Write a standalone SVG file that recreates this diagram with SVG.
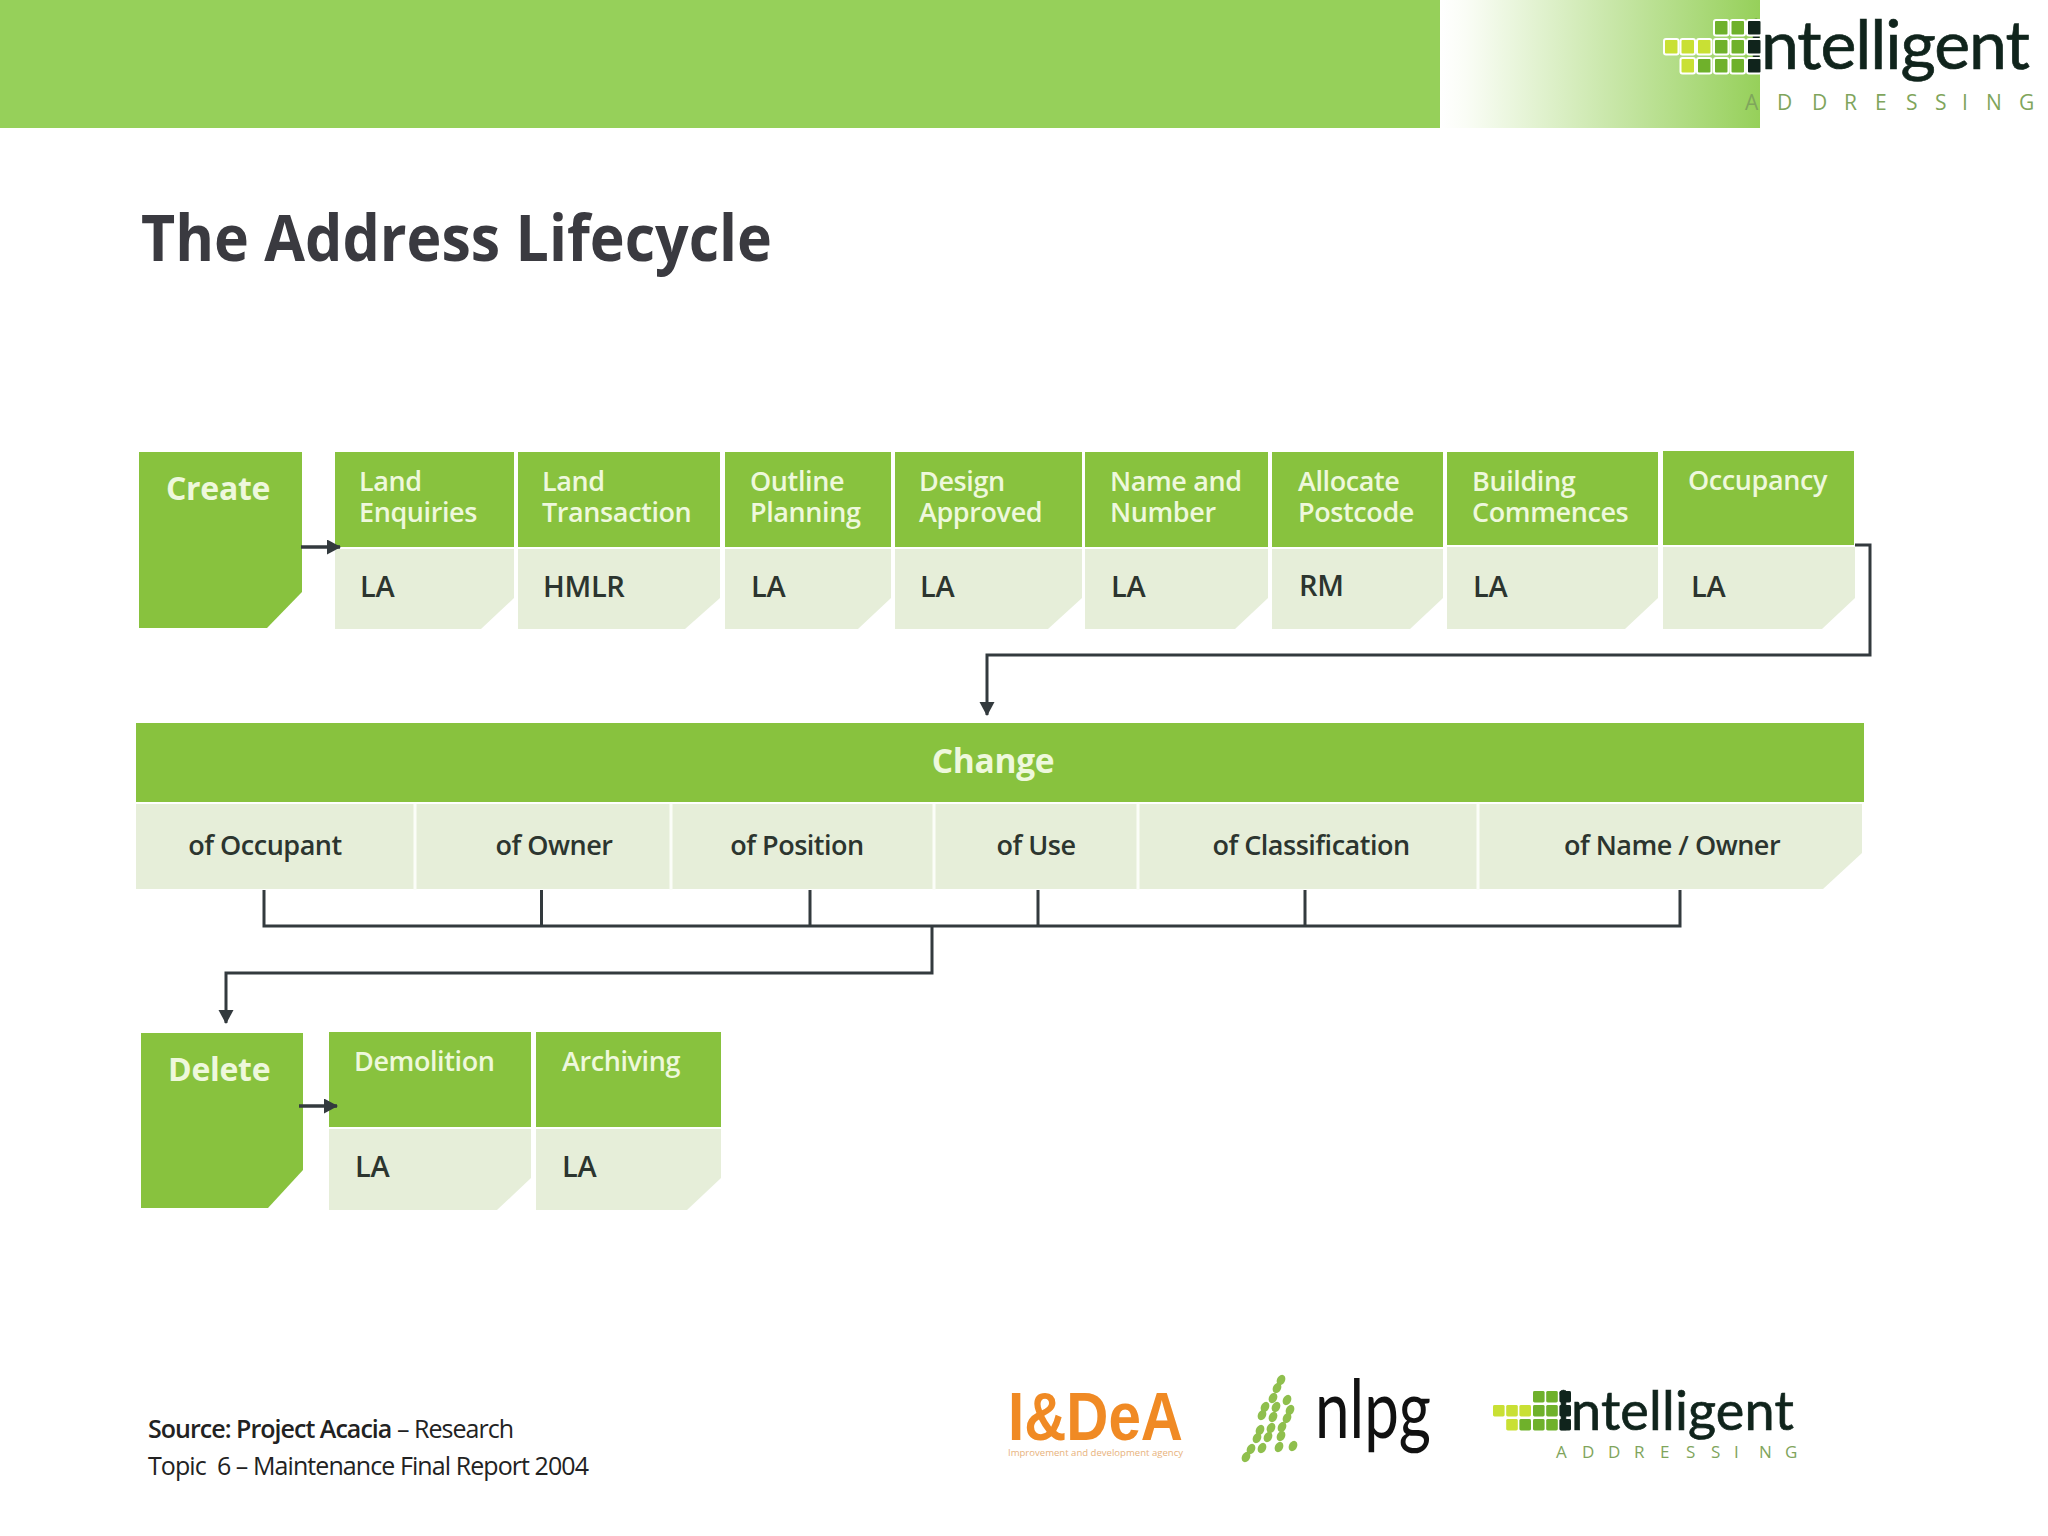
<svg xmlns="http://www.w3.org/2000/svg" width="2048" height="1536" viewBox="0 0 2048 1536">
<style>
text{font-family:"Open Sans","Noto Sans","Liberation Sans",sans-serif}
.g{fill:#88c23e}
.l{fill:#e6eed9}
.h{fill:#eef8dc;font-size:27px;font-weight:600;letter-spacing:-.4px}
.b{fill:#eef8dc;font-size:32px;font-weight:700;letter-spacing:-.3px}
.d{fill:#2c352f;font-size:29px;font-weight:600;letter-spacing:-.3px}
.m{fill:#2c352f;font-size:27px;font-weight:600;text-anchor:middle;letter-spacing:-.5px}
.w{fill:none;stroke:#333a3e;stroke-width:3}
.t{fill:none;stroke:#333a3e;stroke-width:3.6}
.s{fill:#333a3e}
.y{fill:#c9e034}.n{fill:#6fb12b}.k{fill:#10241c}
text.logo{fill:#10241c;font-family:Lato,"Open Sans",sans-serif;font-weight:400;stroke:#10241c;stroke-width:.7}
.addr{fill:#7fa55c}
.src{fill:#222;font-size:25px}
text.idea{fill:#f08a24;font-family:"Liberation Sans",sans-serif;font-weight:700;font-size:68px}
text.ideas{fill:#e8b27c;font-size:9px}
text.nlpg{fill:#111;font-family:Lato,sans-serif;font-size:82px}
</style>
<defs>
<linearGradient id="fade" x1="0" x2="1" y1="0" y2="0"><stop offset="0" stop-color="#fff"/><stop offset="0.08" stop-color="#fafdf6"/><stop offset="1" stop-color="#96d05a"/></linearGradient>
<marker id="arr" markerWidth="16" markerHeight="16" refX="13" refY="7.500" orient="auto" markerUnits="userSpaceOnUse"><path d="M0 0L14 7.500L0 15Z" class="s"/></marker>
<g id="dots">
<rect class="n" x="50" y="0" width="14.500" height="15.500" rx="2"/><rect class="n" x="66.500" y="0" width="14.500" height="15.500" rx="2"/><rect class="k" x="83" y="0" width="14.500" height="15.500" rx="2"/>
<rect class="y" x="0" y="19" width="14.500" height="15.500" rx="2"/><rect class="y" x="16.500" y="19" width="14.500" height="15.500" rx="2"/><rect class="y" x="33" y="19" width="14.500" height="15.500" rx="2"/><rect class="n" x="50" y="19" width="14.500" height="15.500" rx="2"/><rect class="n" x="66.500" y="19" width="14.500" height="15.500" rx="2"/><rect class="k" x="83" y="19" width="14.500" height="15.500" rx="2"/>
<rect class="y" x="16.500" y="38" width="14.500" height="15.500" rx="2"/><rect class="n" x="33" y="38" width="14.500" height="15.500" rx="2"/><rect class="n" x="50" y="38" width="14.500" height="15.500" rx="2"/><rect class="n" x="66.500" y="38" width="14.500" height="15.500" rx="2"/><rect class="k" x="83" y="38" width="14.500" height="15.500" rx="2"/>
</g>
<ellipse id="leaf" rx="4" ry="5.500" transform="rotate(28)" fill="#8fbf4d"/>
</defs>
<rect width="2048" height="1536" fill="#fff"/>
<g id="banner">
<rect x="0" y="0" width="1440" height="128" fill="#96d05a"/>
<rect x="1440" y="0" width="320" height="128" fill="url(#fade)"/>
</g>
<g id="logo-top">
<text class="logo" font-size="68" x="1748 1761" y="69" textLength="284">intelligent</text>
<use href="#dots" transform="translate(1664,20)" stroke="#fff" stroke-width="2"/>
<text class="addr" font-size="21" x="1745 1777 1812 1844 1875 1906 1935 1962 1986 2019" y="110">ADDRESSING</text>
</g>
<text id="title" x="141" y="261" font-size="64" font-weight="700" fill="#3a3a40" textLength="631" lengthAdjust="spacingAndGlyphs">The Address Lifecycle</text>

<g id="create"><path class="g" d="M139 452H302V592L267 628H139Z"/><text class="b" x="166" y="500">Create</text></g>
<g id="land-enquiries"><rect class="g" x="335" y="452" width="179" height="95"/><path class="l" d="M335 549H514V598L481 629H335Z"/><text class="h" y="491"><tspan x="359">Land</tspan><tspan x="359" dy="31">Enquiries</tspan></text><text class="d" x="360" y="597">LA</text></g>
<g id="land-transaction"><rect class="g" x="518" y="452" width="202" height="95"/><path class="l" d="M518 549H720V598L685 629H518Z"/><text class="h" y="491"><tspan x="542">Land</tspan><tspan x="542" dy="31">Transaction</tspan></text><text class="d" x="543" y="597">HMLR</text></g>
<g id="outline-planning"><rect class="g" x="725" y="452" width="166" height="95"/><path class="l" d="M725 549H891V598L858 629H725Z"/><text class="h" y="491"><tspan x="750">Outline</tspan><tspan x="750" dy="31">Planning</tspan></text><text class="d" x="751" y="597">LA</text></g>
<g id="design-approved"><rect class="g" x="895" y="452" width="187" height="95"/><path class="l" d="M895 549H1082V598L1048 629H895Z"/><text class="h" y="491"><tspan x="919">Design</tspan><tspan x="919" dy="31">Approved</tspan></text><text class="d" x="920" y="597">LA</text></g>
<g id="name-number"><rect class="g" x="1085" y="452" width="183" height="95"/><path class="l" d="M1085 549H1268V598L1235 629H1085Z"/><text class="h" y="491"><tspan x="1110">Name and</tspan><tspan x="1110" dy="31">Number</tspan></text><text class="d" x="1111" y="597">LA</text></g>
<g id="allocate-postcode"><rect class="g" x="1272" y="452" width="171" height="95"/><path class="l" d="M1272 549H1443V598L1410 629H1272Z"/><text class="h" y="491"><tspan x="1298">Allocate</tspan><tspan x="1298" dy="31">Postcode</tspan></text><text class="d" x="1299" y="596">RM</text></g>
<g id="building-commences"><rect class="g" x="1447" y="452" width="211" height="93"/><path class="l" d="M1447 547H1658V598L1625 629H1447Z"/><text class="h" y="491"><tspan x="1472">Building</tspan><tspan x="1472" dy="31">Commences</tspan></text><text class="d" x="1473" y="597">LA</text></g>
<g id="occupancy"><rect class="g" x="1663" y="451" width="191" height="94"/><path class="l" d="M1663 547H1855V598L1822 629H1663Z"/><text class="h" x="1688" y="490">Occupancy</text><text class="d" x="1691" y="597">LA</text></g>

<g id="change">
<rect class="g" x="136" y="723" width="1728" height="79"/>
<path class="l" d="M136 804H1862V853L1823 889H136Z"/>
<path d="M415 804V890M671 804V890M934 804V890M1138 804V890M1478 804V890" stroke="#fbfdf8" stroke-width="3" fill="none"/>
<text class="b" x="993" y="773" text-anchor="middle" style="font-size:33.500px">Change</text>
<text class="m" x="265" y="855">of Occupant</text><text class="m" x="554" y="855">of Owner</text><text class="m" x="797" y="855">of Position</text><text class="m" x="1036" y="855">of Use</text><text class="m" x="1311" y="855">of Classification</text><text class="m" x="1672" y="855">of Name / Owner</text>
</g>

<g id="delete"><path class="g" d="M141 1033H303V1170L268 1208H141Z"/><text class="b" x="168" y="1081">Delete</text></g>
<g id="demolition"><rect class="g" x="329" y="1032" width="202" height="95"/><path class="l" d="M329 1129H531V1178L497 1210H329Z"/><text class="h" x="354" y="1071">Demolition</text><text class="d" x="355" y="1177">LA</text></g>
<g id="archiving"><rect class="g" x="536" y="1032" width="185" height="95"/><path class="l" d="M536 1129H721V1178L687 1210H536Z"/><text class="h" x="562" y="1071">Archiving</text><text class="d" x="562" y="1177">LA</text></g>

<g id="connectors">
<path class="t" d="M301 547H340" marker-end="url(#arr)"/>
<path class="w" d="M1855 545H1870V655H987V715" marker-end="url(#arr)"/>
<path class="w" d="M264 890V926H1680V890M541.500 890V926M810 890V926M1038 890V926M1305 890V926"/>
<path class="w" d="M932 926V973H226V1023" marker-end="url(#arr)"/>
<path class="t" d="M299 1106H337" marker-end="url(#arr)"/>
</g>

<g id="source">
<text class="src" x="148" y="1438" textLength="366"><tspan font-weight="600">Source: Project Acacia</tspan> – Research</text>
<text class="src" x="148" y="1475" textLength="441" xml:space="preserve">Topic  6 – Maintenance Final Report 2004</text>
</g>

<g id="logo-idea">
<text class="idea" x="1008" y="1440" textLength="175" lengthAdjust="spacingAndGlyphs">I&amp;DeA</text>
<text class="ideas" x="1008" y="1456" textLength="175" lengthAdjust="spacingAndGlyphs">Improvement and development agency</text>
</g>
<g id="logo-nlpg">
<use href="#leaf" x="1281" y="1380"/><use href="#leaf" x="1277" y="1388"/><use href="#leaf" x="1273" y="1398"/><use href="#leaf" x="1287" y="1400"/><use href="#leaf" x="1265" y="1407"/><use href="#leaf" x="1276" y="1407"/><use href="#leaf" x="1290" y="1410"/><use href="#leaf" x="1262" y="1415"/><use href="#leaf" x="1273" y="1417"/><use href="#leaf" x="1287" y="1418"/><use href="#leaf" x="1260" y="1430"/><use href="#leaf" x="1271" y="1428"/><use href="#leaf" x="1282" y="1427"/><use href="#leaf" x="1257" y="1438"/><use href="#leaf" x="1268" y="1437"/><use href="#leaf" x="1281" y="1436"/><use href="#leaf" x="1251" y="1449"/><use href="#leaf" x="1262" y="1448"/><use href="#leaf" x="1279" y="1447"/><use href="#leaf" x="1293" y="1446"/><use href="#leaf" x="1246" y="1457"/>
<text class="nlpg" x="1315" y="1438" textLength="116" lengthAdjust="spacingAndGlyphs">nlpg</text>
</g>
<g id="logo-bottom">
<text class="logo" font-size="54" x="1557 1571" y="1430" textLength="236">intelligent</text>
<use href="#dots" transform="translate(1493,1391) scale(0.8,0.74)"/>
<text class="addr" font-size="17" x="1556 1582 1608 1634 1660 1686 1711 1734 1759 1785" y="1458">ADDRESSING</text>
</g>
</svg>
